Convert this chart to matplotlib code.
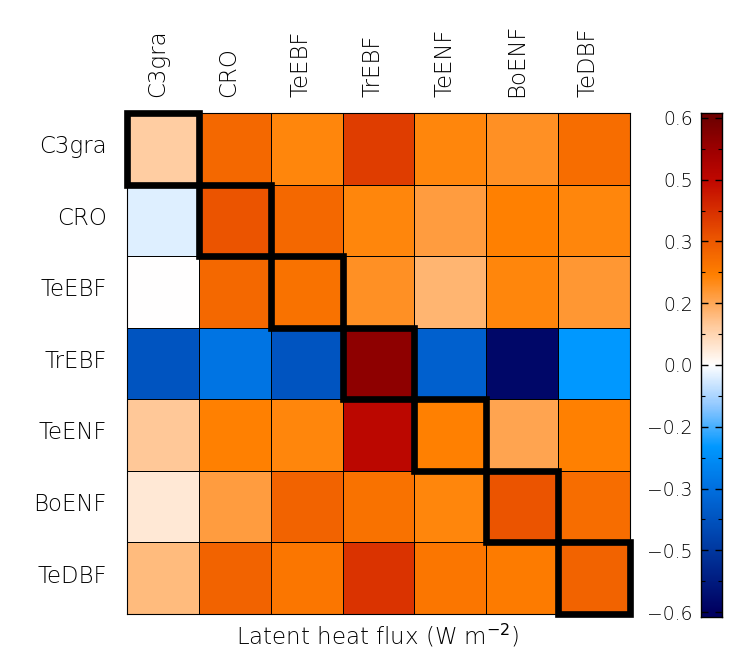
import numpy as np
import matplotlib
matplotlib.use("Agg")
import matplotlib.pyplot as plt
from matplotlib.colors import LinearSegmentedColormap, Normalize
from matplotlib.patches import Rectangle

# ---------------- data ----------------
pfts = ["C3gra", "CRO", "TeEBF", "TrEBF", "TeENF", "BoENF", "TeDBF"]

row_c3gra = [0.09, 0.27, 0.21, 0.35, 0.21, 0.19, 0.26]
row_cro   = [-0.03, 0.31, 0.27, 0.21, 0.17, 0.22, 0.21]
row_teebf = [0.00, 0.27, 0.25, 0.19, 0.13, 0.21, 0.18]
row_trebf = [-0.375, -0.29, -0.375, 0.55, -0.34, -0.58, -0.20]
row_teenf = [0.10, 0.22, 0.21, 0.46, 0.22, 0.155, 0.22]
row_boenf = [0.04, 0.17, 0.28, 0.25, 0.21, 0.31, 0.26]
row_tedbf = [0.12, 0.28, 0.24, 0.37, 0.24, 0.23, 0.28]

cbar_ticks = [-0.6, -0.45, -0.3, -0.15, 0.0, 0.15, 0.3, 0.45, 0.6]
cbar_ticklabels = ["\u22120.6", "\u22120.5", "\u22120.3", "\u22120.2", "0.0",
                   "0.2", "0.3", "0.5", "0.6"]
xlabel = "Latent heat flux (W m$^{-2}$)"

values = np.array([row_c3gra, row_cro, row_teebf, row_trebf,
                   row_teenf, row_boenf, row_tedbf])

# ---------------- colormap ----------------
vmin, vmax = -0.6, 0.6
anchors = [
    (-0.6, "#000060"), (-0.45, "#0038A0"), (-0.3, "#0070E0"),
    (-0.2, "#0098FF"), (-0.1, "#90C8FF"), (0.0, "#FFFFFF"),
    (0.1, "#FFC898"), (0.15, "#FFA858"), (0.22, "#FF8000"),
    (0.3, "#EE5A00"), (0.375, "#D83000"), (0.45, "#C00800"),
    (0.52, "#A00000"), (0.6, "#700000"),
]
cmap = LinearSegmentedColormap.from_list(
    "bwor", [((v - vmin) / (vmax - vmin), c) for v, c in anchors], N=512)
norm = Normalize(vmin=vmin, vmax=vmax)

plt.rcParams["mathtext.fontset"] = "dejavusans"

# ---------------- figure ----------------
W, H = 747, 663
fig = plt.figure(figsize=(W / 100, H / 100), dpi=100)

def fx(px):
    return px / W

def fy(py):
    return 1 - py / H

ax = fig.add_axes([fx(127), fy(614), fx(630) - fx(127), fy(113) - fy(614)])
n = len(pfts)
ax.pcolormesh(np.arange(n + 1), np.arange(n + 1), values, cmap=cmap,
              norm=norm, edgecolors="black", linewidth=0.6)
ax.set_xlim(0, n)
ax.set_ylim(n, 0)
ax.set_xticks([])
ax.set_yticks([])
for s in ax.spines.values():
    s.set_linewidth(0.8)

lab = dict(fontsize=16.5, color="black", fontweight="light")
for i, name in enumerate(pfts):
    ax.text(i + 0.42, -0.22, name, rotation=90, ha="center", va="bottom", **lab)
    ax.text(-0.28, i + 0.47, name, ha="right", va="center", **lab)
    ax.add_patch(Rectangle((i, i), 1, 1, fill=False, ec="black", lw=4.8,
                           clip_on=False, joinstyle="miter", zorder=5))

fig.text(fx(378), fy(636), xlabel, ha="center", va="center", **lab)

# ---------------- colorbar ----------------
ext = 0.612
cax = fig.add_axes([fx(701), fy(617), fx(722) - fx(701), fy(113) - fy(617)])
grad = np.linspace(-ext, ext, 600)[:, None]
cax.imshow(grad, extent=[0, 1, -ext, ext], origin="lower", aspect="auto",
           cmap=cmap, norm=norm)
cax.set_xlim(0, 1)
cax.set_ylim(-ext, ext)
cax.set_xticks([])
cax.set_yticks(cbar_ticks)
cax.set_yticklabels(cbar_ticklabels, fontsize=13.5, fontweight="light")
minor = [(a + b) / 2 for a, b in zip(cbar_ticks[:-1], cbar_ticks[1:])]
cax.set_yticks(minor, minor=True)
cax.tick_params(axis="y", which="major", direction="in", left=True,
                right=True, length=5, width=1, pad=6)
cax.tick_params(axis="y", which="minor", direction="in", left=True,
                right=True, length=3, width=0.8)
for s in cax.spines.values():
    s.set_linewidth(1)

fig.savefig("out.png", dpi=100)
